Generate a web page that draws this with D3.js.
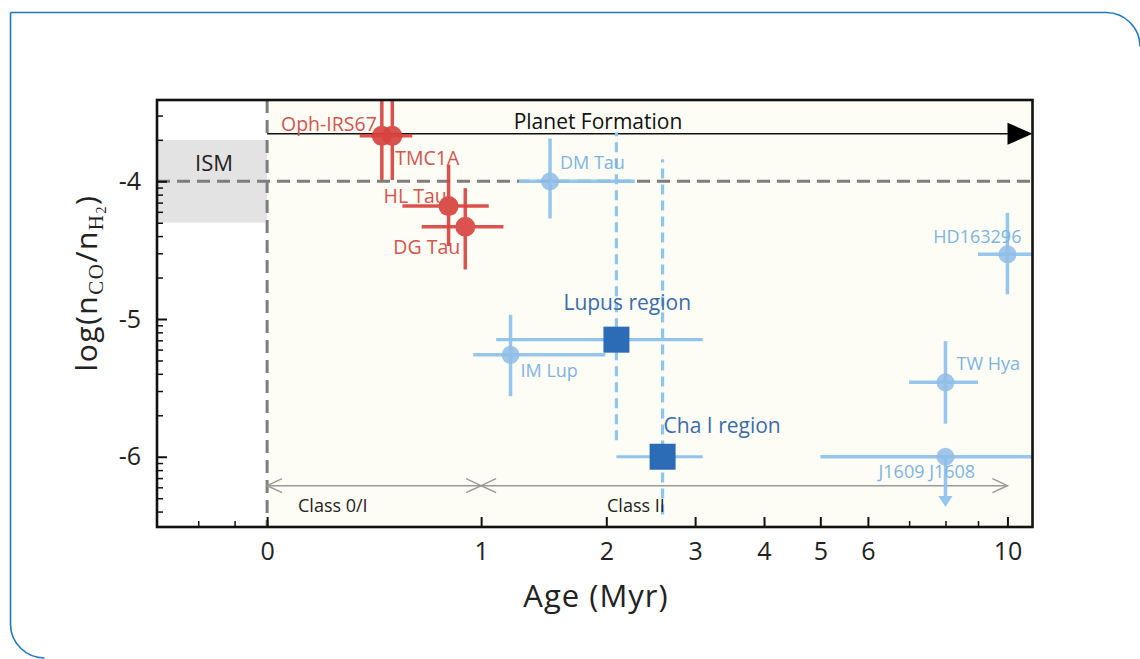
<!DOCTYPE html>
<html>
<head>
<meta charset="utf-8">
<script src="https://cdn.jsdelivr.net/npm/d3@7"></script>
<style>
  html, body { margin: 0; padding: 0; background: #ffffff; }
  svg { display: block; }
  text { font-family: "Open Sans", "DejaVu Sans", sans-serif; }
</style>
</head>
<body>
<svg id="chart" width="1140" height="659"></svg>
<script>
// ---- data -------------------------------------------------------------
// Embedded protostars (Class 0/I)
const protoNames  = ["Oph-IRS67", "TMC1A", "HL Tau", "DG Tau"];
const protoAge    = [0.45, 0.50, 0.80, 0.90];
const protoAgeLo  = [0.35, 0.40, 0.55, 0.65];
const protoAgeHi  = [0.55, 0.60, 1.05, 1.15];
const protoCO     = [-3.67, -3.67, -4.18, -4.33];
const protoCOLo   = [-3.99, -3.99, -4.47, -4.64];
const protoCOHi   = [-3.00, -3.00, -3.88, -4.05];

// Individual Class II disks
const diskNames   = ["DM Tau", "IM Lup", "HD163296", "TW Hya", "J1609 J1608"];
const diskAge     = [1.5, 1.2, 10, 8, 8];
const diskAgeLo   = [1.26, 0.95, 9.0, 7.0, 5.0];
const diskAgeHi   = [2.29, 1.99, 12.0, 9.0, 12.0];
const diskCO      = [-4.00, -5.26, -4.53, -5.46, -6.00];
const diskCOLo    = [-4.27, -5.56, -4.82, -5.76, null];
const diskCOHi    = [-3.69, -4.97, -4.23, -5.16, null];
const diskUpper   = [false, false, false, false, true];
const upperLimitDrop = 0.35;

// Star-forming region medians
const regionNames = ["Lupus region", "Cha I region"];
const regionAge   = [2.1, 2.6];
const regionAgeLo = [1.1, 2.1];
const regionAgeHi = [3.1, 3.1];
const regionCO    = [-5.15, -6.00];
const regionCOLo  = [-5.88, -6.42];
const regionCOHi  = [-3.645, -3.84];

// Reference levels and stage annotations
const ismCO        = -4.0;
const ismRange     = [-3.7, -4.3];
const planetArrowY = -3.655;
const classArrowY  = -6.21;
const classStages  = [
  { label: "Class 0/I", from: 0, to: 1 },
  { label: "Class II",  from: 1, to: 10 }
];

// Axes
const xDomain     = [-0.3, 10.93];
const yDomain     = [-6.51, -3.41];
const xMajorTicks = [0, 1, 2, 3, 4, 5, 6, 10];
const xMinorTicks = [-0.2, -0.1, 7, 8, 9];
const yMajorTicks = [-6, -5, -4];
const xTitle      = "Age (Myr)";

// ---- layout -----------------------------------------------------------
const pL = 157, pR = 1032.5, pT = 100, pB = 527;

const svg = d3.select("#chart");

// age axis is logarithmic in (1 + age)
const xs = d3.scaleLog().domain([xDomain[0] + 1, xDomain[1] + 1]).range([pL, pR]);
const x = a => xs(a + 1);
const y = d3.scaleLinear().domain(yDomain).range([pB, pT]);

const RED = "#d8443f", RED_TXT = "#d4544e";
const LBLUE = "#91c4ee", LBLUE_TXT = "#7db4e4";
const DBLUE = "#2c6cb6", DBLUE_TXT = "#3a6cab";

// page frame
svg.append("path")
  .attr("d", "M10.5,12.5 H1106 A34,34 0 0 1 1140,46.5 M10.5,12.5 V624 A34,34 0 0 0 44.5,658")
  .attr("fill", "none").attr("stroke", "#1f78c1").attr("stroke-width", 1.6);

const defs = svg.append("defs");
defs.append("clipPath").attr("id", "plotClip")
  .append("rect").attr("x", pL).attr("y", pT).attr("width", pR - pL).attr("height", pB - pT);

// backgrounds
svg.append("rect").attr("x", pL).attr("y", pT).attr("width", pR - pL).attr("height", pB - pT)
  .attr("fill", "#ffffff");
svg.append("rect").attr("x", x(0)).attr("y", pT).attr("width", pR - x(0)).attr("height", pB - pT)
  .attr("fill", "#fdfdf5");
svg.append("rect").attr("x", pL).attr("y", y(ismRange[0])).attr("width", x(0) - pL)
  .attr("height", y(ismRange[1]) - y(ismRange[0])).attr("fill", "#e3e3e4");

const plot = svg.append("g").attr("clip-path", "url(#plotClip)");

// ISM reference lines
plot.append("line").attr("x1", pL).attr("x2", pR).attr("y1", y(ismCO)).attr("y2", y(ismCO))
  .attr("stroke", "#7d7d7d").attr("stroke-width", 3).attr("stroke-dasharray", "13,7");
plot.append("line").attr("x1", x(0)).attr("x2", x(0)).attr("y1", pT).attr("y2", pB)
  .attr("stroke", "#7d7d7d").attr("stroke-width", 3).attr("stroke-dasharray", "13,7");

svg.append("text").attr("x", (pL + x(0)) / 2 + 2).attr("y", y(ismCO) - 10)
  .attr("text-anchor", "middle").attr("font-size", 22).attr("fill", "#222").text("ISM");

// Planet formation arrow
const py = y(planetArrowY);
plot.append("line").attr("x1", x(0)).attr("x2", pR - 22).attr("y1", py).attr("y2", py)
  .attr("stroke", "#111").attr("stroke-width", 1.6);
plot.append("path")
  .attr("d", `M${pR - 25},${py - 11} L${pR},${py} L${pR - 25},${py + 11} Z`)
  .attr("fill", "#000");
svg.append("text").attr("x", 598).attr("y", py - 5).attr("text-anchor", "middle")
  .attr("font-size", 21).attr("fill", "#111").text("Planet Formation");

// Class stage arrows
const cy = y(classArrowY);
classStages.forEach(s => {
  const x1 = x(s.from), x2 = x(s.to);
  const g = plot.append("g").attr("stroke", "#9a9a9a").attr("stroke-width", 1.5).attr("fill", "none");
  g.append("line").attr("x1", x1).attr("x2", x2).attr("y1", cy).attr("y2", cy);
  g.append("path").attr("d", `M${x1 + 15},${cy - 7} L${x1},${cy} L${x1 + 15},${cy + 7}`);
  g.append("path").attr("d", `M${x2 - 15},${cy - 7} L${x2},${cy} L${x2 - 15},${cy + 7}`);
});
svg.append("text").attr("x", 298).attr("y", 512).attr("font-size", 18).attr("fill", "#222").text(classStages[0].label);
svg.append("text").attr("x", 607).attr("y", 512).attr("font-size", 18).attr("fill", "#222").text(classStages[1].label);

// helpers for error bars
function errBars(g, ax, aLo, aHi, v, vLo, vHi, color, width, dashV) {
  g.append("line").attr("x1", x(aLo)).attr("x2", x(aHi)).attr("y1", y(v)).attr("y2", y(v))
    .attr("stroke", color).attr("stroke-width", width);
  if (vLo !== null) {
    g.append("line").attr("x1", x(ax)).attr("x2", x(ax)).attr("y1", y(vLo)).attr("y2", y(vHi))
      .attr("stroke", color).attr("stroke-width", width)
      .attr("stroke-dasharray", dashV ? "10,6" : null);
  }
}

// Class II disks (light blue)
const diskG = plot.append("g");
diskNames.forEach((n, i) => {
  const g = diskG.append("g").attr("opacity", 0.95);
  errBars(g, diskAge[i], diskAgeLo[i], diskAgeHi[i], diskCO[i], diskCOLo[i], diskCOHi[i], LBLUE, 3.5, false);
  if (diskUpper[i]) {
    const x0 = x(diskAge[i]), y0 = y(diskCO[i]), y1 = y(diskCO[i] - upperLimitDrop);
    g.append("line").attr("x1", x0).attr("x2", x0).attr("y1", y0).attr("y2", y1 - 6)
      .attr("stroke", LBLUE).attr("stroke-width", 3.5);
    g.append("path").attr("d", `M${x0 - 7},${y1 - 9} L${x0 + 7},${y1 - 9} L${x0},${y1 + 2} Z`).attr("fill", LBLUE);
  }
  g.append("circle").attr("cx", x(diskAge[i])).attr("cy", y(diskCO[i])).attr("r", 9)
    .attr("fill", "#8bbbe6").attr("opacity", 0.85);
});

// Region medians
regionNames.forEach((n, i) => {
  errBars(plot, regionAge[i], regionAgeLo[i], regionAgeHi[i], regionCO[i], regionCOLo[i], regionCOHi[i], LBLUE, 3.2, true);
});
regionNames.forEach((n, i) => {
  plot.append("rect").attr("x", x(regionAge[i]) - 13).attr("y", y(regionCO[i]) - 13)
    .attr("width", 26).attr("height", 26).attr("fill", DBLUE);
});

// Protostars (red)
protoNames.forEach((n, i) => {
  const g = plot.append("g").attr("opacity", 0.92);
  errBars(g, protoAge[i], protoAgeLo[i], protoAgeHi[i], protoCO[i], protoCOLo[i], protoCOHi[i], RED, 3.5, false);
  g.append("circle").attr("cx", x(protoAge[i])).attr("cy", y(protoCO[i])).attr("r", 10).attr("fill", RED);
});

// labels (offsets from the marker, in pixels)
const protoLabelOffset = [[-5, -5, "end"], [3, 29, "start"], [-65, -3, "start"], [-72, 27, "start"]];
protoNames.forEach((n, i) => {
  const o = protoLabelOffset[i];
  svg.append("text").attr("x", x(protoAge[i]) + o[0]).attr("y", y(protoCO[i]) + o[1])
    .attr("text-anchor", o[2]).attr("font-size", 19.5).attr("fill", RED_TXT).text(n);
});
const diskLabelOffset = [[10, -12, "start"], [10, 22, "start"], [14, -11, "end"], [11, -12, "start"], [-67, 21, "start"]];
diskNames.forEach((n, i) => {
  const o = diskLabelOffset[i];
  svg.append("text").attr("x", x(diskAge[i]) + o[0]).attr("y", y(diskCO[i]) + o[1])
    .attr("text-anchor", o[2]).attr("font-size", 18).attr("fill", LBLUE_TXT).text(n);
});
const regionLabelOffset = [[-53, -30], [1, -24]];
regionNames.forEach((n, i) => {
  const o = regionLabelOffset[i];
  svg.append("text").attr("x", x(regionAge[i]) + o[0]).attr("y", y(regionCO[i]) + o[1])
    .attr("font-size", 21).attr("fill", DBLUE_TXT).text(n);
});

// ---- axes -------------------------------------------------------------
const xAxis = d3.axisBottom(xs)
  .tickValues(xMajorTicks.map(a => a + 1))
  .tickFormat(v => String(Math.round(v - 1)))
  .tickSize(-10).tickPadding(15);
const gx = svg.append("g").attr("transform", `translate(0,${pB})`).call(xAxis);
gx.select(".domain").remove();
gx.selectAll(".tick line").attr("stroke", "#111").attr("stroke-width", 2);
gx.selectAll(".tick text").attr("font-size", 25).attr("fill", "#222")
  .attr("font-family", "'Open Sans', sans-serif");

const xMinor = d3.axisBottom(xs).tickValues(xMinorTicks.map(a => a + 1)).tickFormat("").tickSize(-6);
const gxm = svg.append("g").attr("transform", `translate(0,${pB})`).call(xMinor);
gxm.select(".domain").remove();
gxm.selectAll(".tick line").attr("stroke", "#111").attr("stroke-width", 1.5);

const yAxis = d3.axisLeft(y).tickValues(yMajorTicks).tickFormat(d3.format("d"))
  .tickSize(-10).tickPadding(16);
const gy = svg.append("g").attr("transform", `translate(${pL},0)`).call(yAxis);
gy.select(".domain").remove();
gy.selectAll(".tick line").attr("stroke", "#111").attr("stroke-width", 2);
gy.selectAll(".tick text").attr("font-size", 25).attr("fill", "#222")
  .attr("font-family", "'Open Sans', sans-serif")
  .text(d => "-" + Math.abs(d));

// minor y ticks: log-spaced within each unit
const yMinorTicks = [];
[-7, -6, -5, -4].forEach(m => {
  for (let k = 2; k <= 9; k++) {
    const v = m + Math.log10(k);
    if (v > yDomain[0] && v < yDomain[1]) yMinorTicks.push(v);
  }
});
const yMinor = d3.axisLeft(y).tickValues(yMinorTicks).tickFormat("").tickSize(-6);
const gym = svg.append("g").attr("transform", `translate(${pL},0)`).call(yMinor);
gym.select(".domain").remove();
gym.selectAll(".tick line").attr("stroke", "#111").attr("stroke-width", 1.5);

// frame
svg.append("rect").attr("x", pL).attr("y", pT).attr("width", pR - pL).attr("height", pB - pT)
  .attr("fill", "none").attr("stroke", "#111").attr("stroke-width", 2.6);

// axis titles
svg.append("text").attr("x", 596).attr("y", 607).attr("text-anchor", "middle")
  .attr("font-size", 31).attr("letter-spacing", 1).attr("fill", "#222").text(xTitle);

const yt = svg.append("text").attr("transform", "translate(97,283) rotate(-90)")
  .attr("text-anchor", "middle").attr("font-size", 30).attr("letter-spacing", 1.5).attr("fill", "#222");
yt.append("tspan").text("log(n");
yt.append("tspan").attr("font-family", "'Liberation Serif', serif").attr("font-size", 21).attr("dy", 6).text("CO");
yt.append("tspan").attr("dy", -6).text("/n");
yt.append("tspan").attr("font-family", "'Liberation Serif', serif").attr("font-size", 21).attr("dy", 6).text("H");
yt.append("tspan").attr("font-family", "'Liberation Serif', serif").attr("font-size", 14).attr("dy", 3).text("2");
yt.append("tspan").attr("dy", -9).text(")");
</script>
</body>
</html>
